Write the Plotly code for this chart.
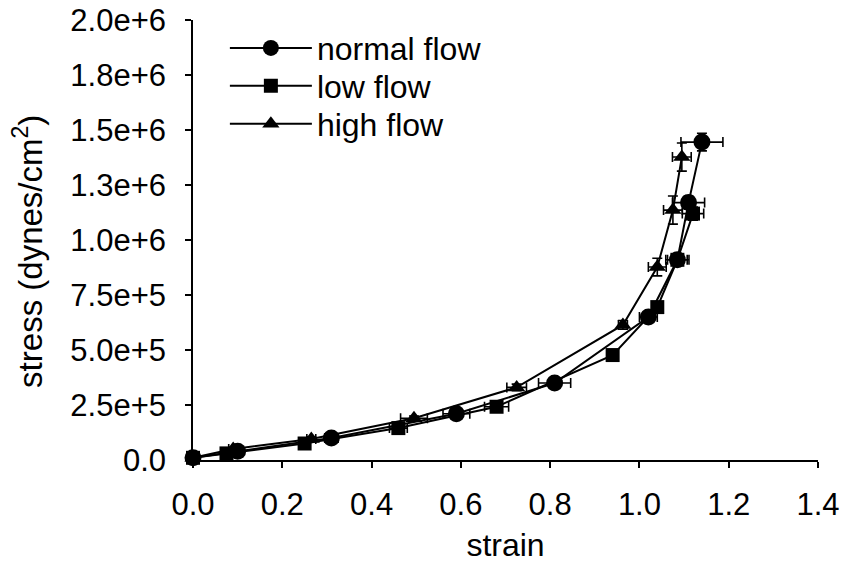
import plotly.graph_objects as go

# ---- data ----
normal_x = [0.0, 0.10, 0.31, 0.59, 0.81, 1.02, 1.085, 1.11, 1.14]
normal_y = [1.0e4, 4.0e4, 1.0e5, 2.1e5, 3.5e5, 6.5e5, 9.1e5, 1.17e6, 1.445e6]
normal_xerr = [0.005, 0.01, 0.015, 0.03, 0.036, 0.02, 0.022, 0.036, 0.047]
normal_yerr = [0, 5e3, 1e4, 1e4, 1e4, 1.5e4, 2e4, 3e4, 4e4]

low_x = [0.0, 0.075, 0.25, 0.46, 0.68, 0.94, 1.04, 1.085, 1.12]
low_y = [1.0e4, 3.0e4, 7.5e4, 1.45e5, 2.42e5, 4.77e5, 6.95e5, 9.1e5, 1.12e6]
low_xerr = [0.005, 0.01, 0.01, 0.02, 0.027, 0.01, 0.012, 0.026, 0.024]
low_yerr = [0, 5e3, 1e4, 1e4, 1e4, 1.5e4, 2e4, 2.5e4, 3e4]

high_x = [0.0, 0.09, 0.265, 0.495, 0.725, 0.963, 1.04, 1.075, 1.095]
high_y = [1.0e4, 5.0e4, 9.5e4, 1.9e5, 3.3e5, 6.14e5, 8.77e5, 1.136e6, 1.377e6]
high_xerr = [0.005, 0.01, 0.01, 0.03, 0.022, 0.01, 0.02, 0.021, 0.021]
high_yerr = [0, 5e3, 1e4, 1e4, 1.5e4, 2e4, 4e4, 6.4e4, 6.4e4]

series = [
    ("normal flow", normal_x, normal_y, normal_xerr, normal_yerr, "circle", 17, "legend"),
    ("low flow", low_x, low_y, low_xerr, low_yerr, "square", 14, "legend2"),
    ("high flow", high_x, high_y, high_xerr, high_yerr, "triangle-up", 15, "legend3"),
]

y_tickvals = [0, 2.5e5, 5.0e5, 7.5e5, 1.0e6, 1.25e6, 1.5e6, 1.75e6, 2.0e6]
y_ticktext = ["0.0", "2.5e+5", "5.0e+5", "7.5e+5", "1.0e+6", "1.3e+6", "1.5e+6", "1.8e+6", "2.0e+6"]
x_tickvals = [0.0, 0.2, 0.4, 0.6, 0.8, 1.0, 1.2, 1.4]
x_ticktext = ["0.0", "0.2", "0.4", "0.6", "0.8", "1.0", "1.2", "1.4"]

FONT = "Liberation Sans, Arial, sans-serif"

fig = go.Figure()
for name, xs, ys, xe, ye, sym, sz, leg in series:
    fig.add_trace(go.Scatter(
        x=xs, y=ys, name=name, mode="lines+markers",
        legend=leg,
        line=dict(color="black", width=2),
        marker=dict(symbol=sym, size=sz, color="black"),
        error_x=dict(type="data", array=xe, color="black", thickness=1.6, width=5),
        error_y=dict(type="data", array=ye, color="black", thickness=1.6, width=5),
        cliponaxis=False,
    ))

def legend_box(ypos):
    return dict(x=0.051, y=ypos, xanchor="left", yanchor="middle",
                bgcolor="rgba(0,0,0,0)", font=dict(size=32, family=FONT, color="black"),
                itemwidth=82)

fig.update_layout(
    width=846, height=575,
    margin=dict(l=193, r=28, t=20, b=115),
    paper_bgcolor="white", plot_bgcolor="white",
    font=dict(family=FONT, size=31, color="black"),
    showlegend=True,
    legend=legend_box(0.936),
    legend2=legend_box(0.850),
    legend3=legend_box(0.764),
    xaxis=dict(
        range=[0, 1.4], tickvals=x_tickvals, ticktext=x_ticktext,
        showgrid=False, zeroline=False, showline=True, linecolor="black", linewidth=1.5,
        ticks="outside", ticklen=6, tickwidth=1.5, tickcolor="black",
        ticklabelstandoff=10, automargin=False, ticklabeloverflow="allow",
        title=dict(text="strain", standoff=13, font=dict(size=32)),
    ),
    yaxis=dict(
        range=[0, 2.0e6], tickvals=y_tickvals, ticktext=y_ticktext,
        showgrid=False, zeroline=False, showline=True, linecolor="black", linewidth=1.5,
        ticks="outside", ticklen=6, tickwidth=1.5, tickcolor="black",
        ticklabelstandoff=13, automargin=False, ticklabeloverflow="allow",
    ),
    annotations=[dict(
        text="stress (dynes/cm<sup>2</sup>)", textangle=-90,
        xref="paper", yref="paper", x=-0.264, y=0.473,
        xanchor="center", yanchor="middle", showarrow=False,
        font=dict(size=33, family=FONT, color="black"),
    )],
)

fig.write_html("out.html", config={"displayModeBar": False},
               post_script="document.body.style.margin='0';")
